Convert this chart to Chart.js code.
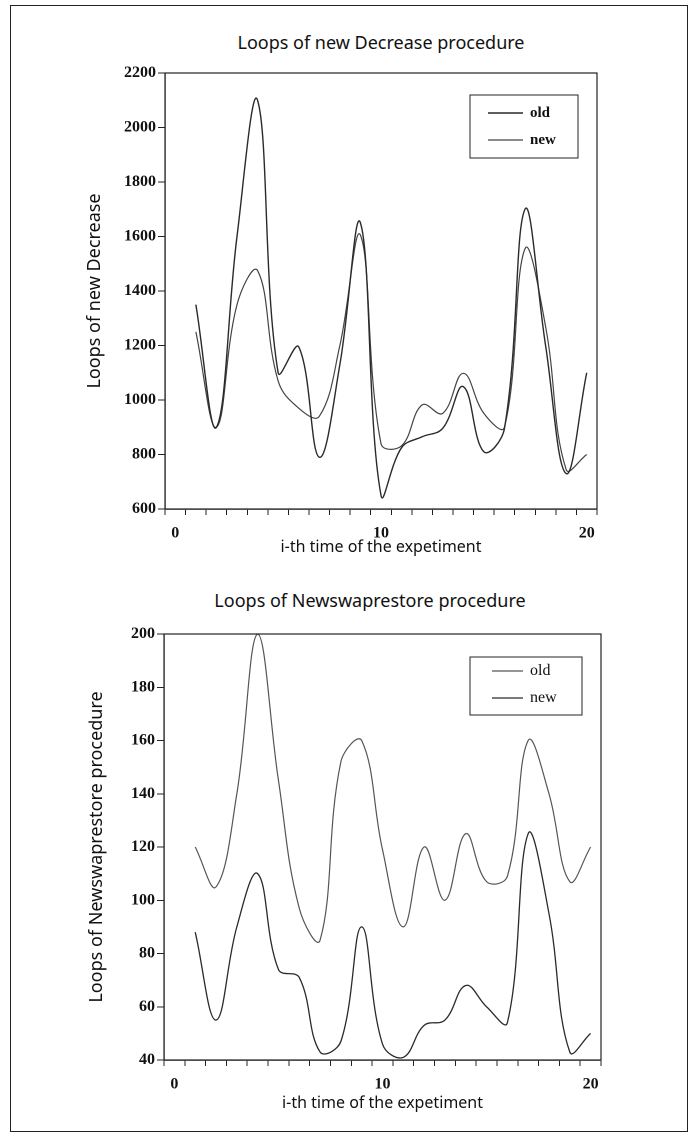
<!DOCTYPE html>
<html>
<head>
<meta charset="utf-8">
<script src="https://cdn.jsdelivr.net/npm/chart.js@4.4.1/dist/chart.umd.min.js"></script>
<style>
  *{box-sizing:border-box;margin:0;padding:0}
  body{background:#fff;width:696px;height:1135px;overflow:hidden}
  .page{position:relative;width:696px;height:1135px}
  .frame{position:absolute;left:10px;top:5px;width:678px;height:1127px;border:1.5px solid #222}
  .title{position:absolute;font-family:'Noto Sans',sans-serif;font-size:18px;color:#111;white-space:nowrap;transform:translate(-50%,-50%)}
  canvas{position:absolute;left:0}
</style>
</head>
<body>
<div class="page">
  <div class="frame"></div>
  <div class="title" style="left:381px;top:42px">Loops of new Decrease procedure</div>
  <div class="title" style="left:370px;top:600px">Loops of Newswaprestore procedure</div>
  <div style="position:absolute;left:0;top:0;width:696px;height:570px"><canvas id="c1"></canvas></div>
  <div style="position:absolute;left:0;top:570px;width:696px;height:565px"><canvas id="c2"></canvas></div>
</div>
<script>
// run index (i-th time of the experiment)
const runs = [1, 2, 3, 4, 5, 6, 7, 8, 9, 10, 11, 12, 13, 14, 15, 16, 17, 18, 19, 20];
const xLabels = [0, 10, 20];

// Loops of Decrease procedure
const decreaseOld = [1350, 900, 1600, 2100, 1100, 1195, 790, 1130, 1650, 650, 825, 865, 896, 1049, 810, 895, 1700, 1200, 730, 1100];
const decreaseNew = [1250, 900, 1350, 1475, 1070, 970, 940, 1200, 1605, 840, 832, 982, 951, 1098, 951, 900, 1555, 1270, 745, 800];

// Loops of Newswaprestore procedure
const swapOld = [120, 105, 140, 200, 145, 97, 85, 152, 160, 119, 90, 120, 100, 125, 107, 109, 160, 140, 107, 120];
const swapNew = [88, 55, 90, 110, 74, 71, 43, 47, 90, 46, 41, 53, 55, 68, 60, 54, 125, 95, 43, 50];

const INK = "#222";
const tickFont = { family: "'Liberation Serif', serif", size: 16, weight: "bold" };
const xTitleFont = { family: "'Noto Sans', sans-serif", size: 16 };
const yTitleFont = { family: "'Noto Sans', sans-serif", size: 18 };

// half-step tick marks, labels only at 0/10/20
const xMarks = [];
for (let v = -0.5; v <= 20.5; v += 1) xMarks.push(v);

const frameBox = {
  id: "frameBox",
  afterDraw(chart) {
    const { ctx, chartArea: a } = chart;
    ctx.save();
    ctx.strokeStyle = INK;
    ctx.lineWidth = 1.2;
    ctx.strokeRect(a.left, a.top, a.right - a.left, a.bottom - a.top);
    ctx.restore();
  }
};

const boxLegend = {
  id: "boxLegend",
  afterDraw(chart, args, o) {
    const { ctx, chartArea: a } = chart;
    const x0 = a.right - o.right - o.w, y0 = a.top + o.top;
    ctx.save();
    ctx.strokeStyle = INK;
    ctx.lineWidth = 1;
    ctx.strokeRect(x0, y0, o.w, o.h);
    ctx.font = o.font;
    ctx.textBaseline = "middle";
    ctx.fillStyle = "#111";
    chart.data.datasets.forEach((ds, i) => {
      const y = y0 + o.row0 + i * o.rowGap;
      ctx.strokeStyle = ds.borderColor;
      ctx.lineWidth = ds.borderWidth;
      ctx.beginPath();
      ctx.moveTo(x0 + o.lineX, y);
      ctx.lineTo(x0 + o.lineX + o.lineW, y);
      ctx.stroke();
      ctx.fillText(ds.label, x0 + o.textX, y);
    });
    ctx.restore();
  }
};

function makeChart(id, cfg) {
  const ds = cfg.series.map(s => ({
    label: s.label,
    data: runs.map((r, i) => ({ x: r, y: s.data[i] })),
    borderColor: s.color,
    borderWidth: s.width,
    pointRadius: 0,
    tension: 0.4,
    fill: false
  }));
  return new Chart(document.getElementById(id), {
    type: "line",
    data: { datasets: ds },
    plugins: [frameBox, boxLegend],
    options: {
      responsive: true,
      maintainAspectRatio: false,
      animation: false,
      devicePixelRatio: 2,
      layout: { padding: cfg.pad },
      plugins: { legend: { display: false }, tooltip: { enabled: false }, boxLegend: cfg.legend },
      scales: {
        x: {
          type: "linear",
          min: -0.5, max: 20.5,
          afterBuildTicks: s => { s.ticks = xMarks.concat(xLabels).sort((a, b) => a - b).map(v => ({ value: v })); },
          afterFit: s => { s.height = cfg.xH; },
          ticks: {
            autoSkip: false, maxRotation: 0, padding: 9, color: "#111", font: tickFont,
            callback: v => xLabels.includes(v) ? String(v) : ""
          },
          grid: {
            drawOnChartArea: false, tickLength: 6, tickWidth: 1,
            tickColor: c => (c.tick && xLabels.includes(c.tick.value)) ? "rgba(0,0,0,0)" : INK
          },
          border: { display: true, color: INK, width: 1.2 },
          title: { display: true, text: "i-th time of the expetiment", color: "#111", font: xTitleFont, padding: 0 }
        },
        y: {
          min: cfg.yMin, max: cfg.yMax,
          afterFit: s => { s.width = cfg.yW; },
          ticks: { stepSize: cfg.yStep, padding: 2, color: "#111", font: tickFont, callback: v => String(v) },
          grid: { drawOnChartArea: false, tickLength: 7, tickWidth: 1, tickColor: INK },
          border: { display: true, color: INK, width: 1.2 },
          title: { display: true, text: cfg.yTitle, color: "#111", font: yTitleFont, padding: 0 }
        }
      }
    }
  });
}

makeChart("c1", {
  series: [
    { label: "old", data: decreaseOld, color: "#2a2a2a", width: 1.4 },
    { label: "new", data: decreaseNew, color: "#444", width: 1.2 }
  ],
  yMin: 600, yMax: 2200, yStep: 200,
  yTitle: "Loops of new Decrease",
  pad: { left: 84, right: 99, top: 73, bottom: 13 },
  yW: 81, xH: 48,
  legend: { right: 19, top: 22, w: 108, h: 63, row0: 18, rowGap: 27, lineX: 18, lineW: 35, textX: 60,
            font: "bold 15px 'Liberation Serif', serif" }
});

makeChart("c2", {
  series: [
    { label: "old", data: swapOld, color: "#555", width: 1.2 },
    { label: "new", data: swapNew, color: "#2a2a2a", width: 1.3 }
  ],
  yMin: 40, yMax: 200, yStep: 20,
  yTitle: "Loops of Newswaprestore procedure",
  pad: { left: 86, right: 95, top: 64, bottom: 22 },
  yW: 78, xH: 53,
  legend: { right: 19, top: 23, w: 112, h: 58, row0: 14, rowGap: 27, lineX: 22, lineW: 31, textX: 60,
            font: "16px 'Liberation Serif', serif" }
});
</script>
</body>
</html>
